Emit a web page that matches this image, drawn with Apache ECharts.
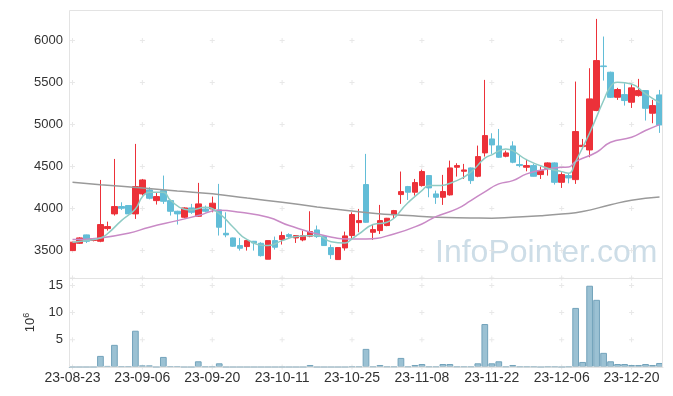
<!DOCTYPE html>
<html><head><meta charset="utf-8">
<script src="https://cdn.jsdelivr.net/npm/echarts@6/dist/echarts.min.js"></script>
<style>html,body{margin:0;padding:0;background:#fff}#c{width:673px;height:396px}</style>
</head><body><div id="c"></div>
<script>
const dates = ['23-08-23','23-08-24','23-08-25','23-08-28','23-08-29','23-08-30','23-08-31',
'23-09-01','23-09-04','23-09-05','23-09-06','23-09-07','23-09-08','23-09-11','23-09-12','23-09-13','23-09-14','23-09-15','23-09-18','23-09-19','23-09-20','23-09-21','23-09-22','23-09-25','23-09-26','23-09-27',
'23-10-04','23-10-05','23-10-06','23-10-10','23-10-11','23-10-12','23-10-13','23-10-16','23-10-17','23-10-18','23-10-19','23-10-20','23-10-23','23-10-24','23-10-25','23-10-26','23-10-27','23-10-30','23-10-31',
'23-11-01','23-11-02','23-11-03','23-11-06','23-11-07','23-11-08','23-11-09','23-11-10','23-11-13','23-11-14','23-11-15','23-11-16','23-11-17','23-11-20','23-11-21','23-11-22','23-11-23','23-11-24','23-11-27','23-11-28','23-11-29','23-11-30',
'23-12-01','23-12-04','23-12-05','23-12-06','23-12-07','23-12-08','23-12-11','23-12-12','23-12-13','23-12-14','23-12-15','23-12-18','23-12-19','23-12-20','23-12-21','23-12-22','23-12-26','23-12-27'];

const openP = [3500,3587,3687,3620,3611,3762,3937,4024,4036,3937,
 4175,4222,4095,4214,4095,3968,3897,4008,3909,3996,
 3996,3984,3706,3651,3560,3548,3611,3587,3397,3619,
 3631,3690,3651,3627,3671,3746,3671,3536,3393,3532,
 3679,3833,4286,3718,3738,3798,3929,4167,4262,4195,
 4274,4393,4175,4135,4163,4492,4444,4484,4385,4663,
 4829,4746,4623,4746,4524,4492,4512,4405,4480,4544,
 4313,4393,4345,4738,4698,5167,5698,5623,5325,5357,
 5266,5345,5405,5135,5353];
const closeP = [3600,3651,3611,3640,3810,3786,4024,4004,3937,4262,
 4341,4123,4143,4087,3968,3937,4008,3956,4056,3968,
 4064,3778,3687,3552,3528,3619,3591,3440,3619,3540,
 3679,3667,3679,3679,3726,3667,3560,3452,3536,3675,
 3929,3857,3837,3750,3857,3885,3976,4202,4195,4310,
 4441,4246,4135,4203,4484,4512,4460,4333,4619,4869,
 4758,4611,4663,4552,4512,4512,4385,4452,4544,4313,
 4405,4365,4917,4754,5306,5762,5690,5325,5417,5286,
 5437,5405,5194,5226,4996];
const lowP = [3495,3580,3590,3610,3600,3738,3917,3984,3930,3877,
 4155,4110,4048,4056,3917,3810,3885,3937,3900,3956,
 3956,3679,3659,3545,3500,3500,3500,3429,3397,3512,
 3572,3651,3591,3611,3659,3651,3555,3401,3390,3500,
 3640,3718,3830,3627,3698,3790,3877,4056,4103,4155,
 4262,4135,4056,4044,4155,4381,4353,4294,4373,4619,
 4651,4603,4611,4540,4492,4444,4381,4353,4393,4286,
 4246,4301,4294,4710,4611,5160,5524,5317,5294,5226,
 5198,5333,5048,5016,4901];
const highP = [3605,3660,3690,3650,4341,3845,4591,4075,4040,4770,
 4353,4254,4194,4393,4100,3975,4016,4056,4306,4036,
 4143,4294,3956,3655,3651,3627,3615,3599,3620,3667,
 3726,3706,3683,3738,3968,3798,3675,3571,3540,3726,
 3956,3996,4651,3810,4044,3889,3984,4441,4270,4353,
 4464,4400,4214,4401,4571,4540,4532,4490,4750,5532,
 4897,4948,4690,4801,4631,4591,4532,4500,4550,4550,
 4433,4421,5512,4829,5671,6258,6048,5630,5437,5492,
 5480,5544,5410,5294,5413];
// volume in millions (10^6)
const volume = [0,0,0,0,2.04,0.2,4.07,0.15,0.15,6.67,
 0.3,0.3,0,1.85,0.15,0.15,0,0,1.05,0.1,
 0.1,0.68,0,0,0,0,0,0,0,0,
 0,0,0,0,0.37,0,0,0,0,0,
 0.1,0.1,3.33,0.1,0.37,0.1,0.1,1.67,0.1,0.37,
 0.55,0.1,0.1,0.55,0.55,0.1,0.1,0.1,0.68,7.9,
 0.68,1.05,0.1,0.37,0.1,0.1,0.1,0,0.1,0.1,
 0,0.1,10.86,0.93,14.94,12.35,2.6,1.05,0.55,0.55,
 0.37,0.37,0.55,0.37,0.74];
// moving-average lines: [category index, value]
const ma5 = [[0,3599],[2,3619],[4,3650],[5,3700],[7,3857],[9,3995],[10,4140],[11,4194],[13,4194],[14,4100],
 [16,3993],[17,3984],[19,4016],[21,3940],[23,3778],[25,3630],[28,3560],[30,3619],[32,3667],[35,3679],
 [37,3605],[39,3590],[40,3640],[41,3698],[43,3810],[45,3837],[48,4070],[50,4214],[51,4274],[52,4274],
 [55,4333],[57,4433],[59,4600],[60,4640],[62,4710],[63,4690],[65,4580],[68,4480],[70,4440],[71,4421],
 [72,4560],[74,4900],[76,5286],[77,5452],[78,5504],[80,5484],[82,5365],[84,5260]];
const ma20 = [[0,3631],[4,3651],[8,3706],[11,3778],[15,3857],[18,3917],[21,3980],[24,3956],[28,3897],[31,3798],
 [36,3679],[40,3639],[42,3639],[46,3698],[50,3817],[52,3905],[55,3996],[57,4095],[59,4200],[61,4294],
 [63,4333],[65,4413],[68,4472],[70,4492],[71,4495],[72,4560],[75,4671],[77,4790],[80,4849],[82,4929],[84,5000]];
const ma120 = [[0,4315],[4,4285],[10,4245],[15,4208],[20,4176],[25,4125],[30,4075],[35,4020],[39,3980],[43,3945],
 [48,3917],[52,3897],[57,3889],[60,3885],[63,3897],[67,3915],[70,3935],[73,3965],[77,4045],[80,4100],[84,4138]];
const priceTicks = [3500,4000,4500,5000,5500,6000];
const volTicks = [0,5,10,15];
const labelStep = 10;

const UP = '#ec3139', DOWN = '#62bdd7';
const candles = dates.map((d,i)=>[openP[i], closeP[i], lowP[i], highP[i]]);
const cols = dates.map((d,i)=>i).filter(i=>i%labelStep===0);
const priceCross = [], volCross = [];
cols.forEach(c=>{ priceTicks.forEach(v=>priceCross.push([c,v])); volTicks.forEach(v=>volCross.push([c,v])); });
const VOLMAX = 16.36;
cols.forEach(c=>volCross.push([c,VOLMAX]));
const plus = 'path://M2,0H3V2H5V3H3V5H2V3H0V2H2Z';
const FONT = 'Liberation Sans';
const plain = v => String(v);

const chart = echarts.init(document.getElementById('c'));
chart.setOption({
  animation:false,
  backgroundColor:'#ffffff',
  grid:[
    {left:69, width:594, top:10, height:282.6},
    {left:69, width:594, top:278, height:89}
  ],
  xAxis:[
    {type:'category', gridIndex:0, data:dates, boundaryGap:true, axisLine:{show:false}, axisTick:{show:false}, axisLabel:{show:false}, splitLine:{show:false}},
    {type:'category', gridIndex:1, data:dates, boundaryGap:true,
     axisLine:{show:true, lineStyle:{color:'#e3e3e3'}}, axisTick:{show:false},
     axisLabel:{interval:labelStep-1, color:'#333', fontFamily:FONT, fontSize:14, margin:4}, splitLine:{show:false}}
  ],
  yAxis:[
    {type:'value', gridIndex:0, min:3000, max:6364, interval:500, axisLine:{show:false}, axisTick:{show:false}, splitLine:{show:false},
     axisLabel:{formatter:plain, showMinLabel:false, showMaxLabel:false, color:'#333', fontFamily:FONT, fontSize:13, margin:6}},
    {type:'value', gridIndex:1, min:0, max:VOLMAX, interval:5, axisLine:{show:false}, axisTick:{show:false}, splitLine:{show:false},
     axisLabel:{formatter:plain, showMinLabel:false, showMaxLabel:false, color:'#333', fontFamily:FONT, fontSize:13, margin:6},
     name:'{a|10}{b|6}', nameLocation:'middle', nameRotate:90, nameGap:30,
     nameTextStyle:{color:'#333', rich:{a:{fontFamily:FONT, fontSize:13, color:'#333'}, b:{fontFamily:FONT, fontSize:9, color:'#333', verticalAlign:'top', padding:[0,0,8,0]}}}}
  ],
  graphic:[
    {type:'text', z:-1, left:435, top:237, style:{text:'InfoPointer.com', font:'32px "Liberation Sans"', fill:'#cddde7'}},
    {type:'rect', z:100, shape:{x:69.5, y:10.5, width:593, height:356.5}, style:{fill:'none', stroke:'#e3e3e3', lineWidth:1}},
    {type:'line', z:100, shape:{x1:69, y1:278.5, x2:663, y2:278.5}, style:{stroke:'#e3e3e3', lineWidth:1}}
  ],
  series:[
    {type:'scatter', xAxisIndex:0, yAxisIndex:0, data:priceCross, symbol:plus, symbolSize:5, itemStyle:{color:'#e2e2e2'}, z:1, silent:true},
    {type:'scatter', xAxisIndex:1, yAxisIndex:1, data:volCross, symbol:plus, symbolSize:5, itemStyle:{color:'#e2e2e2'}, z:1, silent:true},
    {type:'candlestick', xAxisIndex:0, yAxisIndex:0, data:candles, barWidth:6,
     itemStyle:{color:UP, color0:DOWN, borderColor:UP, borderColor0:DOWN, borderWidth:1}, z:2},
    {type:'line', xAxisIndex:0, yAxisIndex:0, data:ma120, smooth:true, showSymbol:false, lineStyle:{color:'#9a9a9a', width:1.5}, z:3},
    {type:'line', xAxisIndex:0, yAxisIndex:0, data:ma20, smooth:true, showSymbol:false, lineStyle:{color:'#c98ac6', width:1.5}, z:3},
    {type:'line', xAxisIndex:0, yAxisIndex:0, data:ma5, smooth:true, showSymbol:false, lineStyle:{color:'#8ecbc4', width:1.5}, z:3},
    {type:'bar', xAxisIndex:1, yAxisIndex:1, data:volume, barCategoryGap:'4%',
     itemStyle:{color:'rgba(130,178,200,0.8)', borderColor:'#73a3bb', borderWidth:1}, z:2}
  ]
});
</script></body></html>
